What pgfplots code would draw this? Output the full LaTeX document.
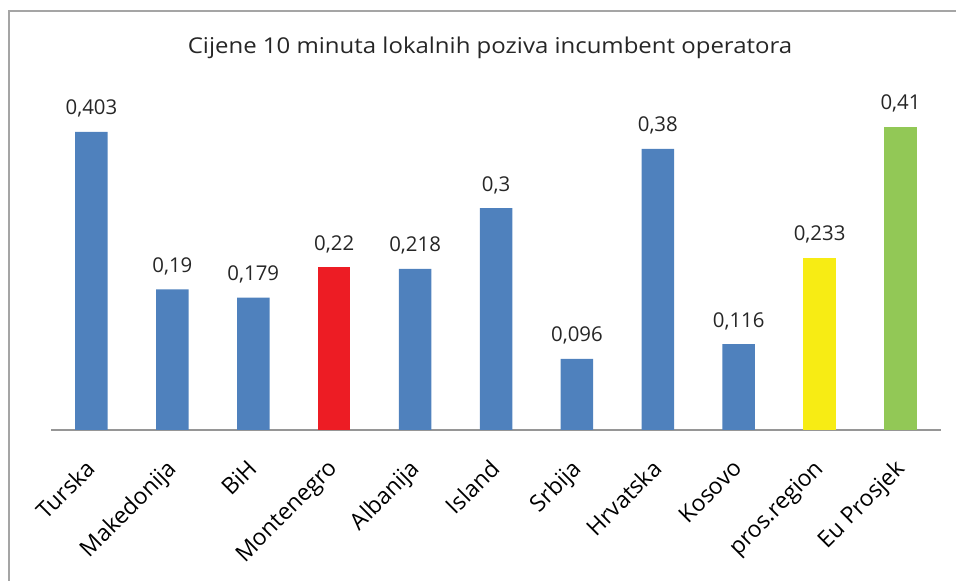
\documentclass[border=0pt]{standalone}
\usepackage{pgfplots}
\pgfplotsset{compat=1.18}
\usepackage{fontspec}
\setmainfont{Open Sans}
\definecolor{barblue}{RGB}{79,129,189}
\definecolor{barred}{RGB}{237,28,36}
\definecolor{baryellow}{RGB}{247,236,20}
\definecolor{bargreen}{RGB}{146,200,86}
\definecolor{framegray}{RGB}{165,165,165}
\definecolor{axisgray}{RGB}{150,150,150}
\begin{document}
\begin{tikzpicture}
\useasboundingbox (0,0) rectangle (478pt,290.5pt);
\draw[framegray, line width=0.9pt] (4.5pt,0) -- (4.5pt,285pt) -- (478pt,285pt);
\node[font=\fontsize{10.9}{12}\selectfont, text=black!85, xscale=1.1] at (245pt,266.5pt) {Cijene 10 minuta lokalnih poziva incumbent operatora};
\begin{axis}[
  at={(25.5pt,75.5pt)}, anchor=south west,
  scale only axis, width=445pt, height=166.4pt,
  xmin=-0.5, xmax=10.5, ymin=0, ymax=0.45,
  axis x line*=bottom, hide y axis,
  x axis line style={-, axisgray, line width=1pt},
  xtick={0,...,10},
  xticklabels={Turska,Makedonija,BiH,Montenegro,Albanija,Island,Srbija,Hrvatska,Kosovo,pros.region,Eu Prosjek},
  xtick style={draw=none},
  xticklabel style={anchor=north east, inner sep=0pt, xshift=-3.5pt, yshift=-9.5pt, rotate=45, font=\fontsize{11.5}{12}\selectfont, text=black},
  ybar, bar width=16.25pt, bar shift=0pt,
  point meta=explicit symbolic,
  nodes near coords,
  nodes near coords style={anchor=base, inner sep=0pt, yshift=8.5pt, font=\fontsize{10.2}{12}\selectfont, text=black!85},
  clip=false,
]
\addplot[fill=barblue, draw=none] coordinates {
 (0,0.403) [0,403]
 (1,0.19) [0,19]
 (2,0.179) [0,179]
 (4,0.218) [0,218]
 (5,0.3) [0,3]
 (6,0.096) [0,096]
 (7,0.38) [0,38]
 (8,0.116) [0,116]
};
\addplot[fill=barred, draw=none] coordinates {(3,0.22) [0,22]};
\addplot[fill=baryellow, draw=none] coordinates {(9,0.233) [0,233]};
\addplot[fill=bargreen, draw=none] coordinates {(10,0.41) [0,41]};
\end{axis}
\end{tikzpicture}
\end{document}
